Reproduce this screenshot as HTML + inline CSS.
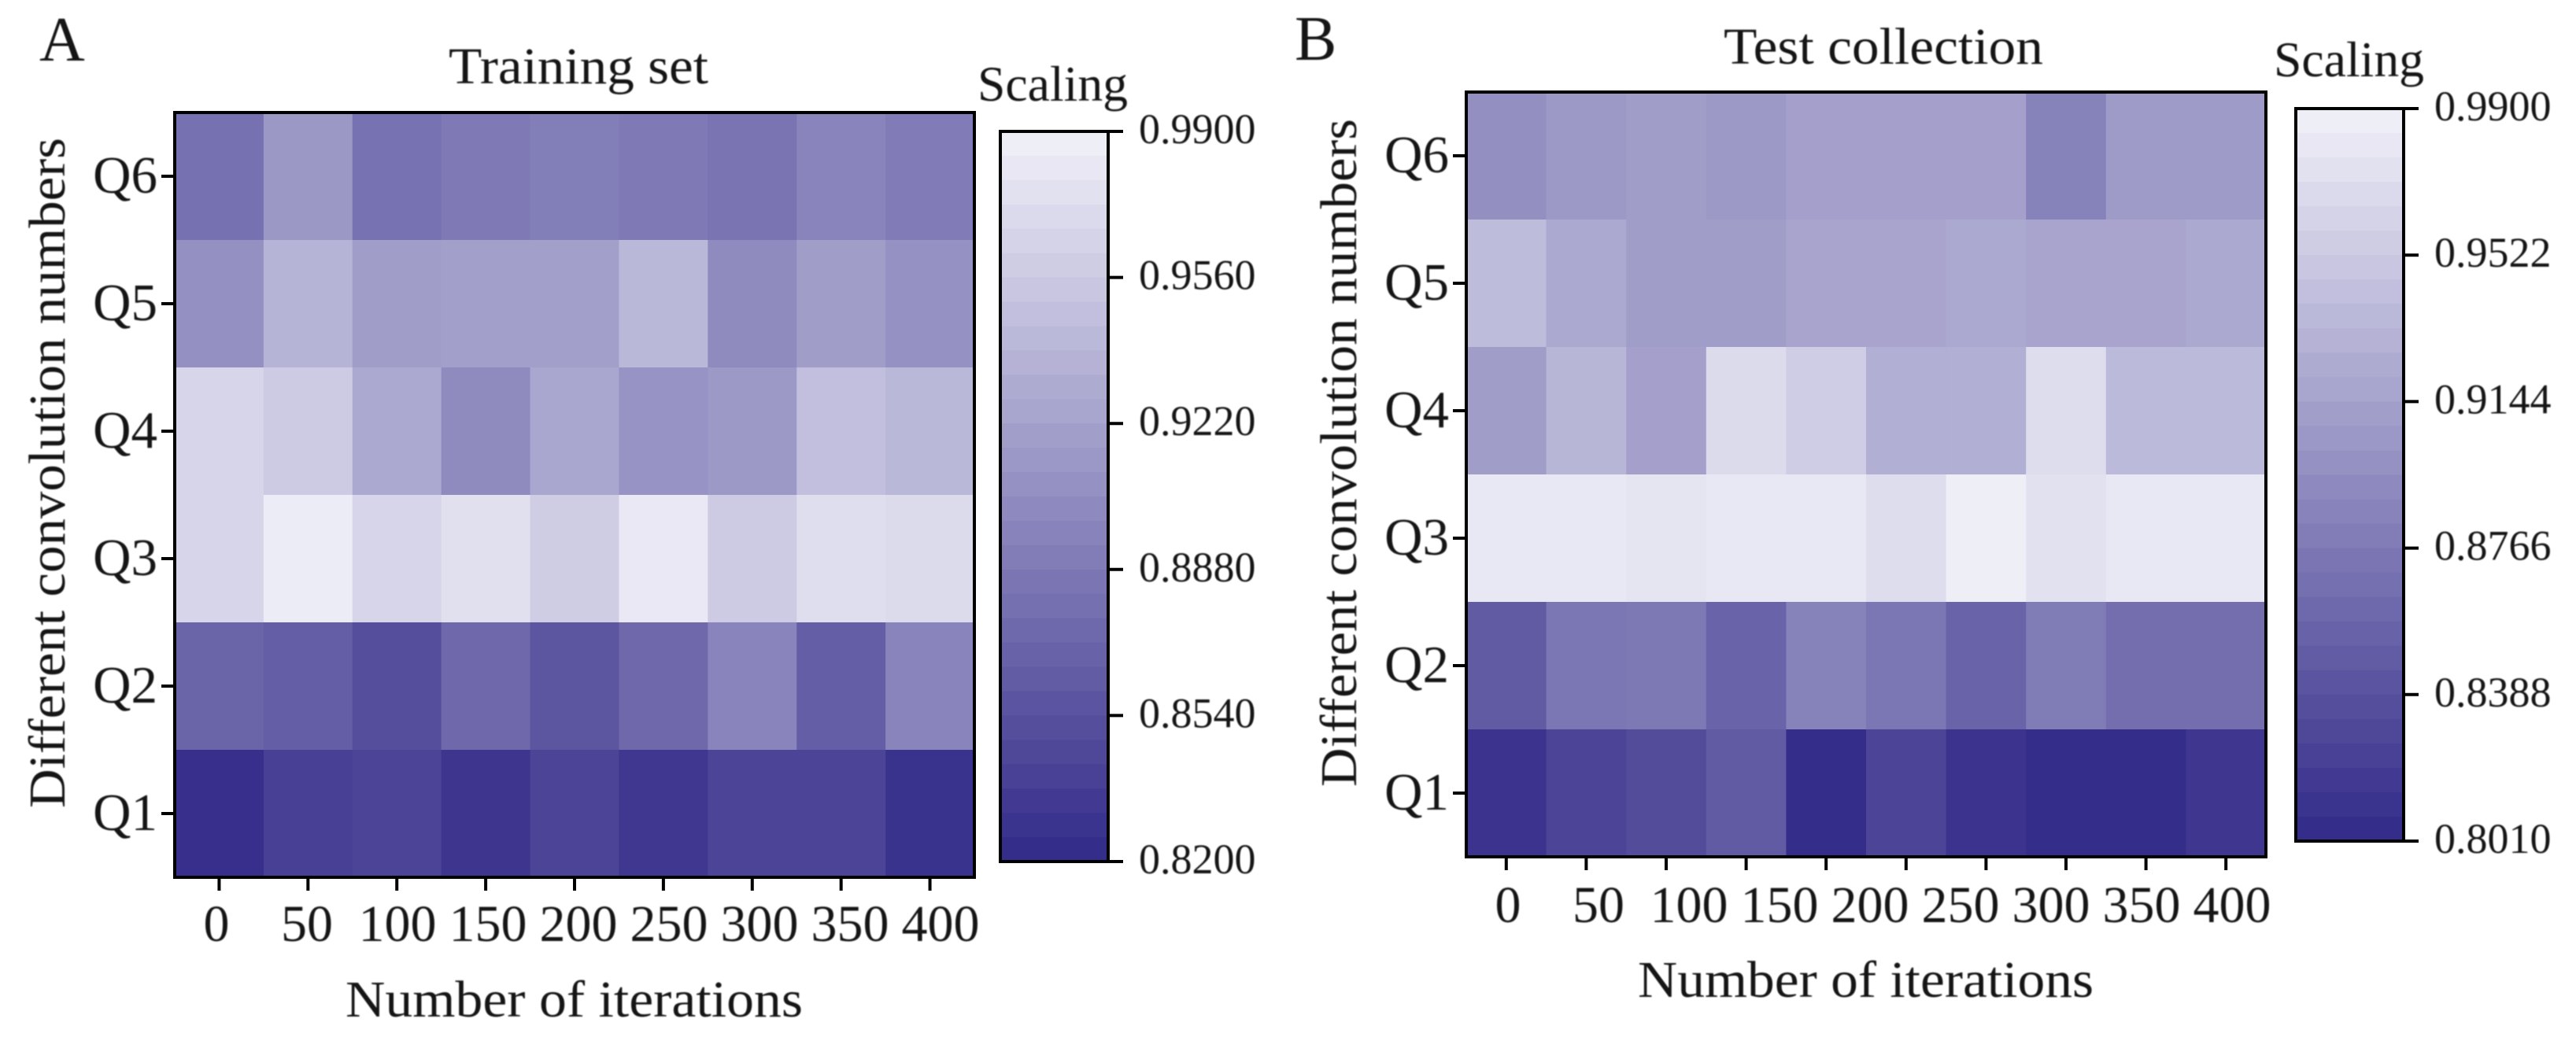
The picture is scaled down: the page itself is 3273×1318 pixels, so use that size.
<!DOCTYPE html>
<html lang="en">
<head>
<meta charset="utf-8">
<title>Training set and test collection heatmaps</title>
<style>
  html, body { margin: 0; padding: 0; background: #ffffff; }
  body { width: 3273px; height: 1318px; overflow: hidden; }
  svg { display: block; }
  text { font-family: "Liberation Serif", "Times New Roman", serif; fill: #151515; }
  #labels-a, #labels-b, .panel-letter { filter: blur(0.9px); }
</style>
</head>
<body>
<svg id="figure" xmlns="http://www.w3.org/2000/svg" width="3273" height="1318" viewBox="0 0 3273 1318">
  <rect x="0" y="0" width="3273" height="1318" fill="#ffffff"/>
  <text class="panel-letter" x="50" y="77" font-size="80">A</text>
  <text class="panel-letter" x="1645" y="76" font-size="80">B</text>
  <g id="panel-a"></g>
  <g id="panel-b"></g>
  <g id="labels-a">
    <text x="570" y="106" font-size="66" textLength="330" lengthAdjust="spacingAndGlyphs">Training set</text>
    <text x="439" y="1292" font-size="66" textLength="581" lengthAdjust="spacingAndGlyphs">Number of iterations</text>
    <text transform="translate(82 1027) rotate(-90)" font-size="66" textLength="852" lengthAdjust="spacingAndGlyphs">Different convolution numbers</text>
    <text x="1242" y="128" font-size="64" textLength="191" lengthAdjust="spacingAndGlyphs">Scaling</text>
  </g>
  <g id="labels-b">
    <text x="2190" y="81" font-size="66" textLength="406" lengthAdjust="spacingAndGlyphs">Test collection</text>
    <text x="2081" y="1267" font-size="66" textLength="579" lengthAdjust="spacingAndGlyphs">Number of iterations</text>
    <text transform="translate(1723 1000) rotate(-90)" font-size="66" textLength="849" lengthAdjust="spacingAndGlyphs">Different convolution numbers</text>
    <text x="2889" y="97" font-size="64" textLength="191" lengthAdjust="spacingAndGlyphs">Scaling</text>
  </g>
</svg>
<script>
const rowLabels = ['Q6', 'Q5', 'Q4', 'Q3', 'Q2', 'Q1'];
const xLabels = ['0', '50', '100', '150', '200', '250', '300', '350', '400'];

const trainQ6 = [0.880, 0.914, 0.881, 0.888, 0.891, 0.888, 0.883, 0.897, 0.890];
const trainQ5 = [0.907, 0.939, 0.919, 0.920, 0.920, 0.942, 0.903, 0.919, 0.908];
const trainQ4 = [0.968, 0.959, 0.929, 0.903, 0.927, 0.910, 0.915, 0.949, 0.942];
const trainQ3 = [0.968, 0.988, 0.968, 0.978, 0.961, 0.985, 0.959, 0.976, 0.973];
const trainQ2 = [0.869, 0.863, 0.849, 0.873, 0.856, 0.873, 0.897, 0.863, 0.897];
const trainQ1 = [0.822, 0.837, 0.840, 0.827, 0.840, 0.829, 0.840, 0.840, 0.825];
const trainTicks = [0.9900, 0.9560, 0.9220, 0.8880, 0.8540, 0.8200];

const testQ6 = [0.897, 0.907, 0.911, 0.907, 0.914, 0.914, 0.914, 0.884, 0.909, 0.909];
const testQ5 = [0.941, 0.922, 0.911, 0.911, 0.918, 0.918, 0.922, 0.918, 0.918, 0.922];
const testQ4 = [0.911, 0.935, 0.914, 0.971, 0.958, 0.928, 0.928, 0.973, 0.939, 0.939];
const testQ3 = [0.984, 0.984, 0.981, 0.984, 0.984, 0.973, 0.990, 0.977, 0.984, 0.984];
const testQ2 = [0.846, 0.873, 0.875, 0.854, 0.884, 0.873, 0.854, 0.878, 0.865, 0.865];
const testQ1 = [0.807, 0.824, 0.831, 0.846, 0.801, 0.824, 0.807, 0.801, 0.801, 0.810];
const testTicks = [0.9900, 0.9522, 0.9144, 0.8766, 0.8388, 0.8010];

const SVG_NS = 'http://www.w3.org/2000/svg';
const LIGHT = [238, 238, 247];
const DARK = [53, 45, 138];
const BANDS = 30;

function make(tag, parent, attrs) {
  const el = document.createElementNS(SVG_NS, tag);
  for (const k in attrs) el.setAttribute(k, attrs[k]);
  parent.appendChild(el);
  return el;
}

function colorFor(v, min, max) {
  const t = Math.max(0, Math.min(1, (v - min) / (max - min)));
  const c = DARK.map((d, i) => Math.round(d + (LIGHT[i] - d) * t));
  return 'rgb(' + c.join(',') + ')';
}

function drawPanel(root, g, matrix, ticks, slug) {
  const textLayer = document.getElementById(slug === 'training-set' ? 'labels-a' : 'labels-b');
  const nCols = matrix[0].length;
  const nRows = matrix.length;
  const xBand = (g.right - g.left) / nCols;
  const yBand = (g.bottom - g.top) / nRows;
  const xScale = i => g.left + xBand * i;
  const yScale = i => g.top + yBand * i;
  const min = ticks[ticks.length - 1];
  const max = ticks[0];
  const barY = v => g.barTop + (max - v) / (max - min) * (g.barBottom - g.barTop);

  matrix.forEach((row, r) => {
    row.forEach((v, c) => {
      const cell = make('rect', root, {
        x: xScale(c), y: yScale(r), width: xBand + 0.5, height: yBand + 0.5,
        fill: colorFor(v, min, max)
      });
      
      
    });
  });

  const frame = make('rect', root, {
    x: g.left, y: g.top, width: g.right - g.left, height: g.bottom - g.top,
    fill: 'none', stroke: '#000', 'stroke-width': 4
  });
  
  

  for (let c = 0; c < nCols; c++) {
    const x = xScale(c + 0.5);
    const tick = make('line', root, {
      x1: x, x2: x, y1: g.bottom + 2, y2: g.bottom + 17, stroke: '#000', 'stroke-width': 4
    });
    
    
  }

  xLabels.forEach((label, i) => {
    const t = make('text', textLayer, {
      x: g.labelStart + g.labelStep * i, y: g.labelBaseline,
      'font-size': 66, 'text-anchor': 'middle'
    });
    t.textContent = label;
    
    
  });

  rowLabels.forEach((label, r) => {
    const y = yScale(r + 0.5);
    const tick = make('line', root, {
      x1: g.left - 17, x2: g.left - 2, y1: y, y2: y, stroke: '#000', 'stroke-width': 4
    });
    
    
    const t = make('text', textLayer, {
      x: g.left - 22, y: y + 21, 'font-size': 67, 'text-anchor': 'end'
    });
    t.textContent = label;
    
    
  });

  const bandH = (g.barBottom - g.barTop) / BANDS;
  for (let i = 0; i < BANDS; i++) {
    const v = max - (max - min) * i / (BANDS - 1);
    const band = make('rect', root, {
      x: g.barLeft, y: g.barTop + bandH * i, width: g.barRight - g.barLeft, height: bandH + 0.5,
      fill: colorFor(v, min, max)
    });
    
    
  }
  const barFrame = make('rect', root, {
    x: g.barLeft, y: g.barTop, width: g.barRight - g.barLeft, height: g.barBottom - g.barTop,
    fill: 'none', stroke: '#000', 'stroke-width': 4
  });
  
  

  ticks.forEach(v => {
    const y = barY(v);
    const tick = make('line', root, {
      x1: g.barRight, x2: g.barRight + 19, y1: y, y2: y, stroke: '#000', 'stroke-width': 4
    });
    
    
    const t = make('text', textLayer, {
      x: g.barRight + 39, y: y + 15, 'font-size': 54
    });
    t.textContent = v.toFixed(4);
    
    
  });
}

drawPanel(
  document.getElementById('panel-a'),
  { left: 222, right: 1238, top: 143, bottom: 1115,
    barLeft: 1271, barRight: 1408, barTop: 167, barBottom: 1095,
    labelStart: 275, labelStep: 115, labelBaseline: 1196 },
  [trainQ6, trainQ5, trainQ4, trainQ3, trainQ2, trainQ1],
  trainTicks,
  'training-set'
);

drawPanel(
  document.getElementById('panel-b'),
  { left: 1863, right: 2879, top: 117, bottom: 1089,
    barLeft: 2917, barRight: 3054, barTop: 138, barBottom: 1069,
    labelStart: 1916, labelStep: 115, labelBaseline: 1172 },
  [testQ6, testQ5, testQ4, testQ3, testQ2, testQ1],
  testTicks,
  'test-collection'
);
</script>
</body>
</html>
